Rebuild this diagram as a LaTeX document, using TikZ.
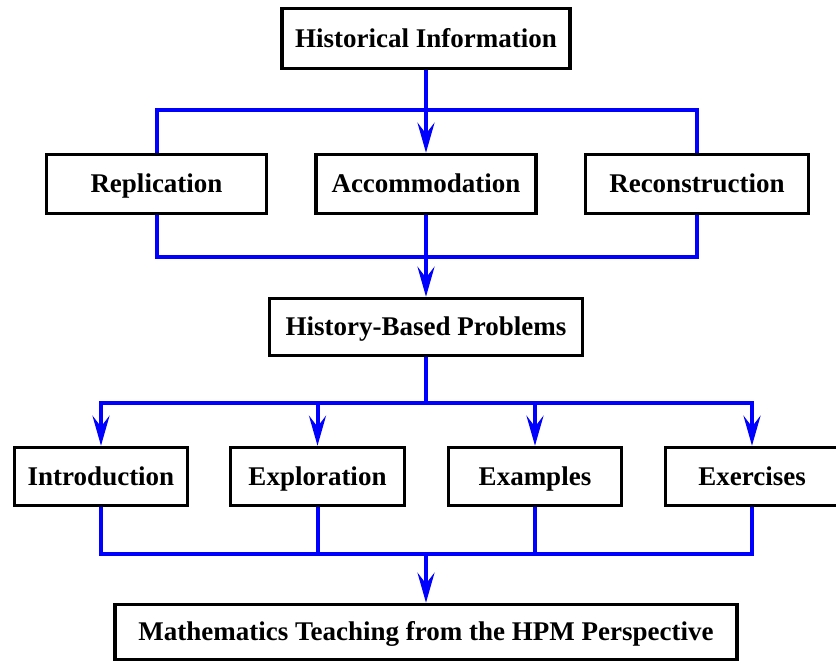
\documentclass[tikz,border=0pt]{standalone}
\usepackage{fontspec}
\setmainfont{Liberation Serif}
\usetikzlibrary{arrows.meta}
\tikzstyle{box}=[rectangle,draw=black,line width=3.5pt,fill=white,inner sep=2pt,text height=20pt,text depth=3pt,font=\fontsize{27}{31}\selectfont\bfseries]
\tikzstyle{link}=[draw=blue,line width=4pt]
\tikzstyle{tip}=[-{Stealth[length=30pt,width=17pt,inset=11pt]}]

\begin{document}
\begin{tikzpicture}[x=1pt,y=-1pt]
\useasboundingbox (0,0) rectangle (836,664);
\node[box,minimum width=288pt,minimum height=60pt] (hist) at (426,38.5) {Historical Information};
\node[box,minimum width=220pt,minimum height=59pt] (rep) at (156.5,184) {Replication};
\node[box,minimum width=220pt,minimum height=59pt] (acc) at (426,184) {Accommodation};
\node[box,minimum width=223pt,minimum height=59pt] (rec) at (697,184) {Reconstruction};
\node[box,minimum width=313pt,minimum height=57pt] (hbp) at (426,327) {History-Based Problems};
\node[box,minimum width=173pt,minimum height=58pt] (intro) at (101,476.5) {Introduction};
\node[box,minimum width=174pt,minimum height=58pt] (expl) at (317.5,476.5) {Exploration};
\node[box,minimum width=173pt,minimum height=58pt] (exam) at (535,476.5) {Examples};
\node[box,minimum width=173pt,minimum height=58pt] (exer) at (752,476.5) {Exercises};
\node[box,minimum width=622pt,minimum height=55pt] (teach) at (426,632) {Mathematics Teaching from the HPM Perspective};
% junctions
\coordinate (j1) at (426,110);
\coordinate (j2) at (426,257);
\coordinate (j3) at (426,403);
\coordinate (j4) at (426,554);
% historical information -> three ways
\draw[link] (rep.north) |- (j1) -| (rec.north);
\draw[link,tip] (hist.south) -- (acc.north);
\draw[link] (rep.south) |- (j2) -| (rec.south);
\draw[link,tip] (acc.south) -- (hbp.north);
% problems -> four uses
\draw[link] (hbp.south) -- (j3);
\foreach \b in {intro,expl,exam,exer} \draw[link,tip] (j3) -| (\b.north);
\foreach \b in {intro,expl,exam,exer} \draw[link] (\b.south) |- (j4);
\draw[link,tip] (j4) -- (teach.north);
\end{tikzpicture}
\end{document}
